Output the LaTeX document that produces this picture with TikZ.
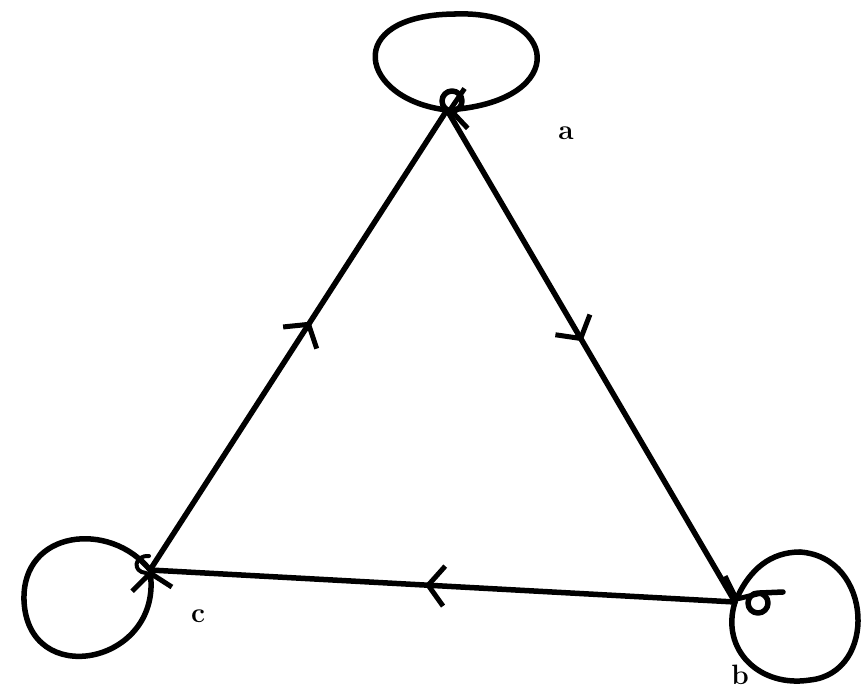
\documentclass[tikz,border=0pt]{standalone}
\usetikzlibrary{arrows.meta,decorations.markings}
\begin{document}
\begin{tikzpicture}[x=1pt,y=-1pt,
  pen/.style={line width=5.5pt,line cap=round,line join=round},
  midarrow/.style={pen,postaction={decorate},decoration={markings,
     mark=at position #1 with {\arrow[line width=5pt]{Straight Barb[length=16pt,width=40pt]}}}},
  looparrow/.style={pen,-{Straight Barb[length=16pt,width=40pt,line width=5pt]}},
  lbl/.style={font=\fontsize{28}{28}\selectfont\bfseries,inner sep=0pt}]
\useasboundingbox (0,0) rectangle (866,695);
\coordinate (a) at (447,110);
\coordinate (b) at (735,602);
\coordinate (c) at (150,570);
% edges
\draw[midarrow=0.54] (c) -- (a);
\draw[midarrow=0.47] (a) -- (b);
\draw[midarrow=0.53] (b) -- (c);
% loop at a
\coordinate (atop) at (455,14);
\draw[pen] (a) .. controls (360,100) and (340,15) .. (atop);
\draw[looparrow] (atop) .. controls (560,10) and (570,100) .. (a);
% loop at c
\coordinate (cleft) at (24,600);
\draw[pen] (c) .. controls (110,520) and (22,530) .. (cleft);
\draw[looparrow] (cleft) .. controls (27,690) and (160,665) .. (c);
% loop at b
\coordinate (bbot) at (810,680);
\coordinate (btop) at (800,552);
\draw[pen] (b) .. controls (720,650) and (760,688) .. (bbot)
               .. controls (878,673) and (873,557) .. (btop);
\draw[looparrow] (btop) .. controls (770,552) and (750,570) .. (b);
% small curls at the vertices
\node[pen,draw,circle,minimum size=20pt,inner sep=0pt] (acurl) at (452,101) {};
\node[pen,draw,circle,minimum size=20pt,inner sep=0pt] (bcurl) at (758,603) {};
\coordinate (bt1) at (760,593);
\coordinate (bt2) at (783,592);
\draw[pen] (bt1) -- (bt2);
\coordinate (cc1) at (149,556);
\coordinate (cc2) at (146,573);
\draw[pen,line width=4pt] (cc1) .. controls (134,555) and (132,572) .. (cc2);
% labels
\node[lbl] (la) at (566,133) {a};
\node[lbl] (lb) at (740,675) {b};
\node[lbl] (lc) at (198,616) {c};
\end{tikzpicture}
\end{document}
